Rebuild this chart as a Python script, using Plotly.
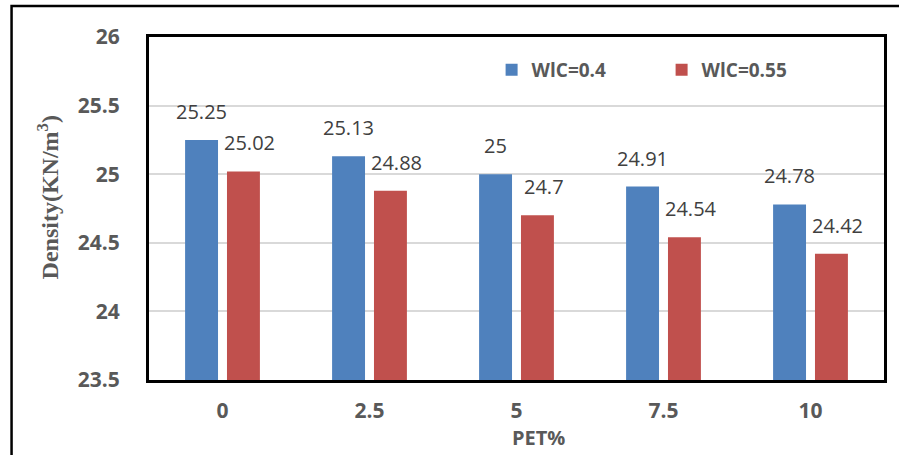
import plotly.graph_objects as go

# PET content (%) and measured density for the two water/cement ratios
pet_pct = ["0", "2.5", "5", "7.5", "10"]
density_wc_040 = [25.25, 25.13, 25.00, 24.91, 24.78]
density_wc_055 = [25.02, 24.88, 24.70, 24.54, 24.42]
series_names = ["WlC=0.4", "WlC=0.55"]
y_ticks = [23.5, 24, 24.5, 25, 25.5, 26]

BLUE = "#4F81BD"
RED = "#C0504D"
TICK_GREY = "#595959"
LABEL_GREY = "#404040"

W, H = 899, 455
M_L, M_R, M_T, M_B = 149, 12, 37, 75
plot_w = W - M_L - M_R
plot_h = H - M_T - M_B

fig = go.Figure()
fig.add_trace(go.Bar(x=pet_pct, y=density_wc_040, name=series_names[0],
                     marker=dict(color=BLUE, line=dict(width=0))))
fig.add_trace(go.Bar(x=pet_pct, y=density_wc_055, name=series_names[1],
                     marker=dict(color=RED, line=dict(width=0))))

# value labels above each bar (category index, shifted over each bar of the pair)
annotations = []
for vals, dx in ((density_wc_040, -21), (density_wc_055, 27)):
    for idx, v in enumerate(vals):
        annotations.append(dict(
            x=idx, y=v, xref="x", yref="y", text=f"{v:g}", showarrow=False,
            xshift=dx, yshift=13, yanchor="bottom",
            font=dict(family="Open Sans", size=20, color=LABEL_GREY)))

# axis titles
annotations.append(dict(
    x=(540 - M_L) / plot_w, y=(H - 437 - M_B) / plot_h, xref="paper", yref="paper",
    text="PET%", showarrow=False, yanchor="middle",
    font=dict(family="Open Sans", size=20, color=TICK_GREY, weight="bold")))
annotations.append(dict(
    x=(48 - M_L) / plot_w, y=(H - M_B - 197) / plot_h, xref="paper", yref="paper",
    text="Density(KN/m<sup>3</sup>)", showarrow=False, textangle=-90,
    xanchor="center", yanchor="middle",
    font=dict(family="Liberation Serif", size=24, color=TICK_GREY, weight="bold")))

# outer frame around the whole chart
shapes = [dict(type="rect", xref="paper", yref="paper",
               x0=(11 - M_L) / plot_w, x1=(905 - M_L) / plot_w,
               y0=(H - M_B - 462) / plot_h, y1=(H - M_B - 6) / plot_h,
               line=dict(color="black", width=2.5), fillcolor="rgba(0,0,0,0)",
               layer="above")]

fig.update_layout(
    width=W, height=H,
    margin=dict(l=M_L, r=M_R, t=M_T, b=M_B, pad=0),
    paper_bgcolor="white", plot_bgcolor="white",
    barmode="group", bargap=0.43, bargroupgap=0.214,
    showlegend=True,
    legend=dict(orientation="h", x=(493 - M_L) / plot_w, y=(H - M_B - 70) / plot_h,
                xanchor="left", yanchor="middle",
                font=dict(family="Open Sans", size=19, color=TICK_GREY, weight="bold"),
                entrywidth=125, entrywidthmode="pixels",
                bgcolor="rgba(0,0,0,0)", itemclick=False),
    annotations=annotations,
    shapes=shapes,
)

fig.update_xaxes(
    type="category", range=[-0.5, len(pet_pct) - 0.5],
    showgrid=False, zeroline=False,
    showline=True, linecolor="black", linewidth=3, mirror=True,
    ticks="", ticklabelstandoff=10,
    tickfont=dict(family="Open Sans", size=21, color=TICK_GREY, weight="bold"),
)
fig.update_yaxes(
    range=[23.5, 26], tickvals=y_ticks, ticktext=[f"{t:g}" for t in y_ticks],
    showgrid=True, gridcolor="#D9D9D9", gridwidth=1.5, zeroline=False,
    showline=True, linecolor="black", linewidth=3, mirror=True,
    ticks="", ticklabelstandoff=22,
    tickfont=dict(family="Open Sans", size=21, color=TICK_GREY, weight="bold"),
)

fig.write_html("out.html")
